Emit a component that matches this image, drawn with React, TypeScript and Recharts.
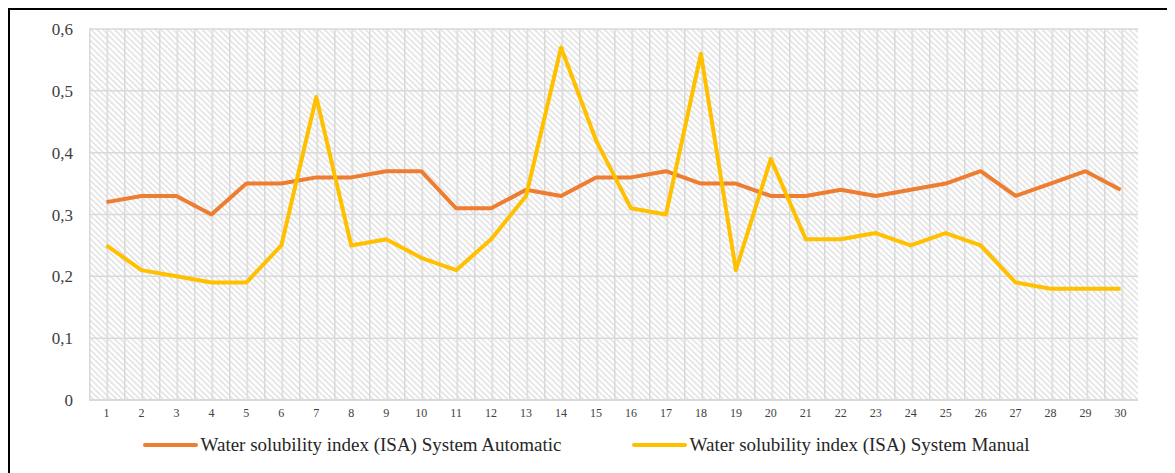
import { LineChart, Line, XAxis, YAxis, CartesianGrid, Legend } from 'recharts';

const DAYS = Array.from({ length: 30 }, (_, i) => String(i + 1));

const AUTOMATIC = [
  0.32, 0.33, 0.33, 0.3, 0.35, 0.35, 0.36, 0.36, 0.37, 0.37, 0.31, 0.31, 0.34, 0.33, 0.36,
  0.36, 0.37, 0.35, 0.35, 0.33, 0.33, 0.34, 0.33, 0.34, 0.35, 0.37, 0.33, 0.35, 0.37, 0.34,
];

const MANUAL = [
  0.25, 0.21, 0.2, 0.19, 0.19, 0.25, 0.49, 0.25, 0.26, 0.23, 0.21, 0.26, 0.33, 0.57, 0.42,
  0.31, 0.3, 0.56, 0.21, 0.39, 0.26, 0.26, 0.27, 0.25, 0.27, 0.25, 0.19, 0.18, 0.18, 0.18,
];

const Y_TICKS = [0, 0.1, 0.2, 0.3, 0.4, 0.5, 0.6];

const AUTO_NAME = 'Water solubility index (ISA) System Automatic';
const MANUAL_NAME = 'Water solubility index (ISA) System Manual';

const data = DAYS.map((day, i) => ({
  day,
  auto: AUTOMATIC[i],
  manual: MANUAL[i],
}));

const GRID = '#d9d9d9';
const FONT = '"Liberation Serif", "Times New Roman", serif';

function LegendContent({ payload }: any) {
  return (
    <div
      style={{
        display: 'flex',
        justifyContent: 'center',
        gap: 70,
        fontFamily: FONT,
        fontSize: 19,
        lineHeight: '22px',
        color: '#262626',
        paddingLeft: 24,
      }}
    >
      {(payload || []).map((item: any) => (
        <div key={item.value} style={{ display: 'flex', alignItems: 'center' }}>
          <span
            style={{
              display: 'inline-block',
              width: 55,
              height: 4,
              borderRadius: 2,
              background: item.color,
              marginRight: 3,
            }}
          />
          <span>{item.value}</span>
        </div>
      ))}
    </div>
  );
}

export default function App() {
  return (
    <div
      style={{
        width: 1165,
        height: 463,
        borderTop: '2px solid #000',
        borderLeft: '2px solid #000',
        background: '#fff',
      }}
    >
      <style>{'body{overflow:hidden}'}</style>
      <LineChart
        width={1165}
        height={463}
        data={data}
        margin={{ top: 19, right: 37, left: 0, bottom: 17 }}
      >
        <defs>
          <pattern
            id="hatch"
            patternUnits="userSpaceOnUse"
            x={79}
            y={0}
            width={17.5}
            height={17.5}
          >
            <rect width={17.5} height={17.5} fill="#fff" />
            <path
              d="M-17.5,-17.5 L35,35 M-11.67,-17.5 L35,28.83 M-5.83,-17.5 L35,23.17 M0,-17.5 L35,17.5 M-17.5,-11.67 L28.83,35 M-17.5,-5.83 L23.17,35 M-17.5,0 L17.5,35"
              stroke="#dcdcdc"
              strokeWidth={1.3}
            />
            <line x1={0.75} y1={0} x2={0.75} y2={17.5} stroke={GRID} strokeWidth={1.5} />
          </pattern>
        </defs>
        <CartesianGrid
          vertical={false}
          stroke={GRID}
          strokeWidth={1.5}
          fill="url(#hatch)"
          fillOpacity={1}
        />
        <XAxis
          dataKey="day"
          padding={{ left: 17.5, right: 17.5 }}
          height={34}
          interval={0}
          axisLine={{ stroke: GRID, strokeWidth: 2 }}
          tickLine={false}
          tickMargin={2}
          tick={{ fontSize: 12, fill: '#404040', fontFamily: FONT }}
        />
        <YAxis
          width={79}
          domain={[0, 0.6]}
          ticks={Y_TICKS}
          interval={0}
          axisLine={false}
          tickLine={false}
          tickMargin={10}
          tickFormatter={(v: number) => String(v).replace('.', ',')}
          tick={{ fontSize: 17, fill: '#404040', fontFamily: FONT }}
        />
        <Legend verticalAlign="bottom" content={<LegendContent />} />
        <Line
          type="linear"
          dataKey="auto"
          name={AUTO_NAME}
          stroke="#ED7D31"
          strokeWidth={4}
          strokeLinejoin="round"
          dot={false}
          activeDot={false}
          isAnimationActive={false}
        />
        <Line
          type="linear"
          dataKey="manual"
          name={MANUAL_NAME}
          stroke="#FFC000"
          strokeWidth={4}
          strokeLinejoin="round"
          dot={false}
          activeDot={false}
          isAnimationActive={false}
        />
      </LineChart>
    </div>
  );
}
